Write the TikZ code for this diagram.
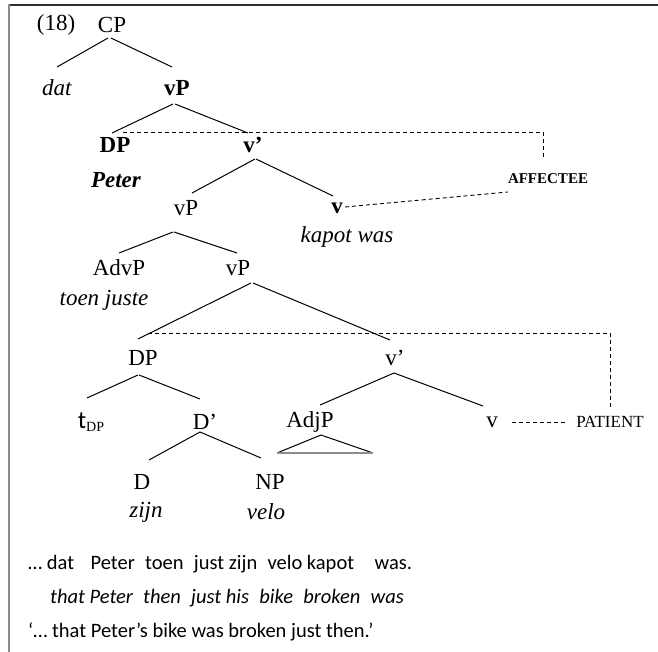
\documentclass[tikz,border=0pt]{standalone}
\usepackage{fontspec}
\setmainfont{Liberation Serif}
\newfontfamily\glossfont{Carlito}
\usetikzlibrary{calc}
\begin{document}
\begin{tikzpicture}[x=1pt,y=-1pt,
  lab/.style={inner sep=0pt, font=\fontsize{23}{26}\selectfont},
  role/.style={inner sep=0pt, font=\fontsize{15}{18}\selectfont},
  branch/.style={line width=1pt},
  link/.style={line width=0.9pt, dash pattern=on 4pt off 3pt},
  gloss/.style={inner sep=0pt, anchor=base west, font=\glossfont\fontsize{20.5}{24}\selectfont}]
\useasboundingbox (0,0) rectangle (658,652);
% frame
\draw[line width=2pt, black!82] (8,5) -- (658,5);
\draw[line width=2.4pt, black!45] (9,4) -- (9,652);

% tree labels
\node[lab] (ex)    at (56,25)  {(18)};
\node[lab] (CP)    at (112,25) {CP};
\node[lab] (dat)   at (57,88)  {\textit{dat}};
\node[lab] (vPa)   at (177,88) {\textbf{vP}};
\node[lab] (DPa)   at (115,145) {\textbf{DP}};
\node[lab] (Peter) at (116,180) {\textbf{\textit{Peter}}};
\node[lab] (vba)   at (253,145) {\textbf{v’}};
\node[role] (aff)  at (548,179) {\textbf{AFFECTEE}};
\node[lab] (vPb)   at (186,208) {vP};
\node[lab] (va)    at (337,208) {\textbf{v}};
\node[lab] (kapot) at (347,237) {\textit{kapot was}};
\node[lab] (AdvP)  at (119,268) {AdvP};
\node[lab] (vPc)   at (238,268) {vP};
\node[lab] (toen)  at (104,300) {\textit{toen juste}};
\node[lab] (DPb)   at (143,358) {DP};
\node[lab] (vbb)   at (395,358) {v’};
\node[lab] (tDP)   at (91,422) {{\glossfont\fontsize{25}{26}\selectfont t}\raisebox{-0.35ex}{\fontsize{14}{15}\selectfont DP}};
\node[lab] (Dbar)  at (205,422) {D’};
\node[lab] (AdjP)  at (310,422) {AdjP};
\node[lab] (vb)    at (492,422) {v};
\node[role,font=\fontsize{17}{19}\selectfont] (pat) at (610,422) {PATIENT};
\node[lab] (D)     at (142,482) {D};
\node[lab] (NP)    at (270,482) {NP};
\node[lab] (zijn)  at (146,512) {\textit{zijn}};
\node[lab] (velo)  at (266,512) {\textit{velo}};

% branches
\draw[branch] ($(CP)+(-4,13)$) -- ($(dat)+(0,-21)$);
\draw[branch] ($(CP)+(-1,13)$) -- ($(vPa)+(-5,-21)$);
\draw[branch] ($(vPa)+(-4,16)$) -- ($(DPa)+(-3,-12)$);
\draw[branch] ($(vPa)+(-2,16)$) -- ($(vba)+(-5,-12)$);
\draw[branch] ($(vba)+(2,14)$) -- ($(vPb)+(6,-15)$);
\draw[branch] ($(vba)+(3,14)$) -- ($(va)+(-4,-12)$);
\draw[branch] ($(vPb)+(-13,24)$) -- ($(AdvP)+(0,-15)$);
\draw[branch] ($(vPb)+(-12,24)$) -- ($(vPc)+(-1,-15)$);
\draw[branch] ($(vPc)+(13,15)$) -- ($(DPb)+(-5,-19)$);
\draw[branch] ($(vPc)+(15,15)$) -- ($(vbb)+(-5,-18)$);
\draw[branch] ($(DPb)+(-5,17)$) -- ($(tDP)+(-4,-24)$);
\draw[branch] ($(DPb)+(-4,17)$) -- ($(Dbar)+(-5,-23)$);
\draw[branch] ($(vbb)+(-1,15)$) -- ($(AdjP)+(10,-17)$);
\draw[branch] ($(vbb)+(-1,15)$) -- ($(vb)+(-9,-16)$);
\draw[branch] ($(Dbar)+(-5,10)$) -- ($(D)+(7,-22)$);
\draw[branch] ($(Dbar)+(-5,10)$) -- ($(NP)+(-9,-24)$);
% AdjP triangle
\draw[branch] ($(AdjP)+(-33,31)$) -- ($(AdjP)+(11,13)$) -- ($(AdjP)+(63,31)$);
\draw[line width=1.3pt, black!45] ($(AdjP)+(-33,31)$) -- ($(AdjP)+(63,31)$);

% dashed role links
\draw[link] ($(DPa)+(8,-13)$) -| ($(aff)+(-5,-22)$);
\draw[link] ($(va)+(8,-1)$) -- ($(aff)+(-40,13)$);
\draw[link] ($(DPb)+(5,-25)$) -| ($(pat)+(0,-15)$);
\draw[link] ($(vb)+(20,0)$) -- ($(pat.west)+(-10,0)$);

% example sentence, gloss and translation
\node[gloss] (l1) at (28,569) {…\ dat\hspace{0.8em}Peter\hspace{0.5em}toen\hspace{0.5em}just zijn\hspace{0.5em}velo kapot\hspace{1em}was.};
\node[gloss] (l2) at (50,603) {\itshape that Peter\hspace{0.5em}then\hspace{0.5em}just his\hspace{0.5em}bike\hspace{0.5em}broken\hspace{0.5em}was};
\node[gloss] (l3) at (28,637) {‘… that Peter’s bike was broken just then.’};
\end{tikzpicture}
\end{document}
